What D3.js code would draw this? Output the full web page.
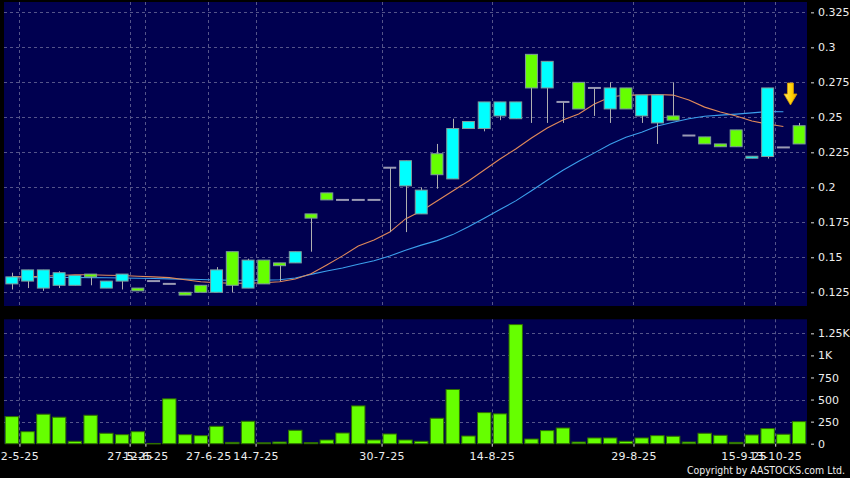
<!DOCTYPE html>
<html><head><meta charset="utf-8">
<script src="https://cdn.jsdelivr.net/npm/d3@7"></script>
<style>body{margin:0;background:#000;}svg{display:block;}</style>
</head><body>
<svg id="chart" width="850" height="478"></svg>
<script>
// ---- data ----
const openP  = [0.136,0.141,0.141,0.139,0.137,0.136,0.133,0.138,0.126,0.133,0.131,0.123,0.125,0.141,0.130,0.148,0.131,0.144,0.154,0.178,0.191,0.191,0.191,0.191,0.214,0.219,0.198,0.209,0.242,0.247,0.261,0.261,0.261,0.271,0.290,0.261,0.256,0.271,0.271,0.256,0.266,0.266,0.248,0.237,0.231,0.229,0.229,0.2222,0.271,0.2285,0.231];
const highP  = [0.139,0.141,0.141,0.140,0.137,0.138,0.133,0.138,0.128,0.133,0.131,0.125,0.130,0.143,0.154,0.149,0.148,0.146,0.154,0.181,0.196,0.191,0.191,0.191,0.214,0.219,0.200,0.231,0.249,0.247,0.261,0.261,0.261,0.295,0.290,0.261,0.275,0.271,0.275,0.271,0.266,0.266,0.275,0.237,0.236,0.231,0.241,0.2222,0.271,0.2285,0.246];
const lowP   = [0.127,0.128,0.126,0.128,0.130,0.130,0.128,0.127,0.126,0.133,0.131,0.123,0.125,0.125,0.125,0.128,0.131,0.133,0.146,0.154,0.191,0.191,0.191,0.191,0.168,0.168,0.181,0.199,0.206,0.242,0.240,0.248,0.249,0.246,0.246,0.246,0.256,0.251,0.246,0.256,0.246,0.231,0.248,0.237,0.231,0.229,0.229,0.2208,0.2205,0.2285,0.231];
const closeP = [0.131,0.133,0.128,0.130,0.130,0.138,0.128,0.133,0.128,0.133,0.131,0.125,0.130,0.125,0.154,0.128,0.148,0.146,0.146,0.181,0.196,0.191,0.191,0.191,0.214,0.201,0.181,0.224,0.206,0.242,0.242,0.251,0.249,0.295,0.271,0.261,0.275,0.271,0.256,0.271,0.251,0.246,0.251,0.237,0.236,0.231,0.241,0.2208,0.222,0.2285,0.244];
const volume = [307,136,334,300,27,322,118,102,136,3,508,102,91,197,15,254,10,19,152,12,42,121,428,42,110,42,27,288,614,87,352,338,1349,53,148,178,19,65,65,27,65,91,84,19,118,95,15,99,171,107,250];
const maShort = [0.1362,0.1360,0.1365,0.1370,0.1375,0.1375,0.1372,0.1370,0.1365,0.1360,0.1355,0.1340,0.1325,0.1318,0.1315,0.1315,0.1318,0.1325,0.1345,0.1382,0.1445,0.1510,0.1580,0.1623,0.1680,0.1774,0.1831,0.1902,0.1974,0.2045,0.2124,0.2202,0.2274,0.2352,0.2424,0.2481,0.2524,0.2595,0.2645,0.2659,0.2659,0.2663,0.2659,0.2624,0.2573,0.2538,0.2509,0.2474,0.2452,0.2435];
const maLong  = [0.1352,0.1354,0.1356,0.1356,0.1356,0.1355,0.1354,0.1352,0.1350,0.1348,0.1346,0.1344,0.1341,0.1338,0.1336,0.1336,0.1337,0.1340,0.1352,0.1378,0.1402,0.1424,0.1450,0.1475,0.1509,0.1551,0.1587,0.1619,0.1662,0.1718,0.1779,0.1841,0.1903,0.1976,0.2050,0.2122,0.2186,0.2246,0.2307,0.2358,0.2394,0.2438,0.2465,0.2490,0.2508,0.2516,0.2523,0.2532,0.2541,0.2540];
const dateTickIndex = [0,7,8,12,15,23,30,39,46,48];
const dateTickLabels = ["2-5-25","27-5-25","12-6-25","27-6-25","14-7-25","30-7-25","14-8-25","29-8-25","15-9-25","13-10-25"];
const priceTicks = [0.125,0.15,0.175,0.2,0.225,0.25,0.275,0.3,0.325];
const volTicks = [0,250,500,750,1000,1250];
const volTickLabels = ["0","250","500","750","1K","1.25K"];
const arrowIndex = 49.45, arrowTipPrice = 0.2588;
const copyright = "Copyright by AASTOCKS.com Ltd.";

// ---- layout ----
const N = closeP.length;
const L = 4, R = 807;
const pTop = 2, pBot = 306, vTop = 319.3, vBot = 443.7;
const svg = d3.select("#chart");
const font = "'DejaVu Sans', Verdana, sans-serif";
const panelFill = "#000050", gridCol = "#55558a";

const x = d3.scaleLinear().domain([-0.5, N - 0.5]).range([L, R]);
const step = x(1) - x(0);
const gridOff = 0.48;
const yP = d3.scaleLinear().domain([0.1152, 0.3324]).range([pBot, pTop]);
const yV = d3.scaleLinear().domain([0, 1409]).range([vBot, vTop]);

svg.append("rect").attr("width",850).attr("height",478).attr("fill","#000");
svg.append("rect").attr("x",L).attr("y",pTop).attr("width",R-L).attr("height",pBot-pTop).attr("fill",panelFill);
svg.append("rect").attr("x",L).attr("y",vTop).attr("width",R-L).attr("height",vBot-vTop).attr("fill",panelFill);

// grids
const grid = svg.append("g").attr("stroke",gridCol).attr("stroke-width",1).attr("stroke-dasharray","3,3").attr("fill","none");
priceTicks.forEach(p => grid.append("line").attr("x1",L).attr("x2",R).attr("y1",Math.round(yP(p))+0.5).attr("y2",Math.round(yP(p))+0.5));
volTicks.slice(1).forEach(v => grid.append("line").attr("x1",L).attr("x2",R).attr("y1",Math.round(yV(v))+0.5).attr("y2",Math.round(yV(v))+0.5));
dateTickIndex.forEach(i => {
  const gx = Math.round(x(i + gridOff)) + 0.5;
  grid.append("line").attr("x1",gx).attr("x2",gx).attr("y1",pTop).attr("y2",pBot);
  grid.append("line").attr("x1",gx).attr("x2",gx).attr("y1",vTop).attr("y2",vBot);
});

// moving averages
const lineGen = arr => d3.line().x((d,i)=>x(i)).y(d=>yP(d))(arr);
svg.append("path").attr("d",lineGen(maLong)).attr("fill","none").attr("stroke","#3b9fec").attr("stroke-width",1.1);
svg.append("path").attr("d",lineGen(maShort)).attr("fill","none").attr("stroke","#e0895a").attr("stroke-width",1.1);

// candles
const bodyW = step * 0.76;
const cg = svg.append("g");
d3.range(N).forEach(i => {
  const o = openP[i], c = closeP[i], h = highP[i], l = lowP[i];
  const cxp = Math.round(x(i)) + 0.5;
  if (h > l) cg.append("line").attr("x1",cxp).attr("x2",cxp).attr("y1",yP(h)).attr("y2",yP(l)).attr("stroke","#b0b0b0").attr("stroke-width",1);
  if (o === c) {
    cg.append("line").attr("x1",x(i)-bodyW/2-0.5).attr("x2",x(i)+bodyW/2+0.5).attr("y1",yP(o)).attr("y2",yP(o))
      .attr("stroke","#9a9ab4").attr("stroke-width",2);
  } else {
    const top = yP(Math.max(o,c)), bot = yP(Math.min(o,c));
    cg.append("rect").attr("x",x(i)-bodyW/2).attr("y",top).attr("width",bodyW).attr("height",Math.max(bot-top,1.5))
      .attr("fill", c > o ? "#66ff00" : "#00ffff").attr("stroke","#7f9c9c").attr("stroke-width",1);
  }
});

// volume bars
const vW = step * 0.85;
svg.append("g").selectAll("rect").data(volume).join("rect")
  .attr("x",(d,i)=>x(i)-vW/2).attr("y",d=>yV(d)).attr("width",vW).attr("height",d=>Math.max(vBot-yV(d),0.5))
  .attr("fill","#66ff00").attr("stroke","#2f6e00").attr("stroke-width",1);

// arrow annotation
const ax = x(arrowIndex), ay = yP(arrowTipPrice);
const grad = svg.append("defs").append("linearGradient").attr("id","ag").attr("x1",0).attr("x2",1).attr("y1",0).attr("y2",0);
grad.append("stop").attr("offset","0%").attr("stop-color","#ffe86a");
grad.append("stop").attr("offset","60%").attr("stop-color","#ffd000");
grad.append("stop").attr("offset","100%").attr("stop-color","#e6a800");
svg.append("path").attr("d",`M${ax-3},${ay-22} L${ax+3},${ay-22} L${ax+3},${ay-11} L${ax+6.5},${ay-11} L${ax},${ay} L${ax-6.5},${ay-11} L${ax-3},${ay-11} Z`)
  .attr("fill","url(#ag)").attr("stroke","#d89a00").attr("stroke-width",0.8);

// axes
function styleAxis(g){
  g.select(".domain").remove();
  g.selectAll("line").attr("stroke","#dddddd");
  g.selectAll("text").attr("fill","#eeeeee").attr("font-family",font).attr("font-size","11px");
}
svg.append("g").attr("transform",`translate(${R+4},0)`)
  .call(d3.axisRight(yP).tickValues(priceTicks).tickSize(3).tickPadding(4).tickFormat(d=>String(d)))
  .call(styleAxis);
svg.append("g").attr("transform",`translate(${R+4},0)`)
  .call(d3.axisRight(yV).tickValues(volTicks).tickSize(3).tickPadding(4).tickFormat((d,i)=>volTickLabels[i]))
  .call(styleAxis);
svg.append("g").attr("transform",`translate(0,${vBot})`)
  .call(d3.axisBottom(x).tickValues(dateTickIndex.map(i=>i+gridOff)).tickSize(3).tickPadding(6).tickFormat((d,i)=>dateTickLabels[i]))
  .call(styleAxis)
  .call(g=>g.selectAll("text").attr("letter-spacing","0.4px"));

svg.append("text").attr("x",845).attr("y",474).attr("text-anchor","end").attr("fill","#eeeeee")
  .attr("font-family",font).attr("font-size","11px").attr("textLength",158).attr("lengthAdjust","spacingAndGlyphs").text(copyright);
</script>
</body></html>
